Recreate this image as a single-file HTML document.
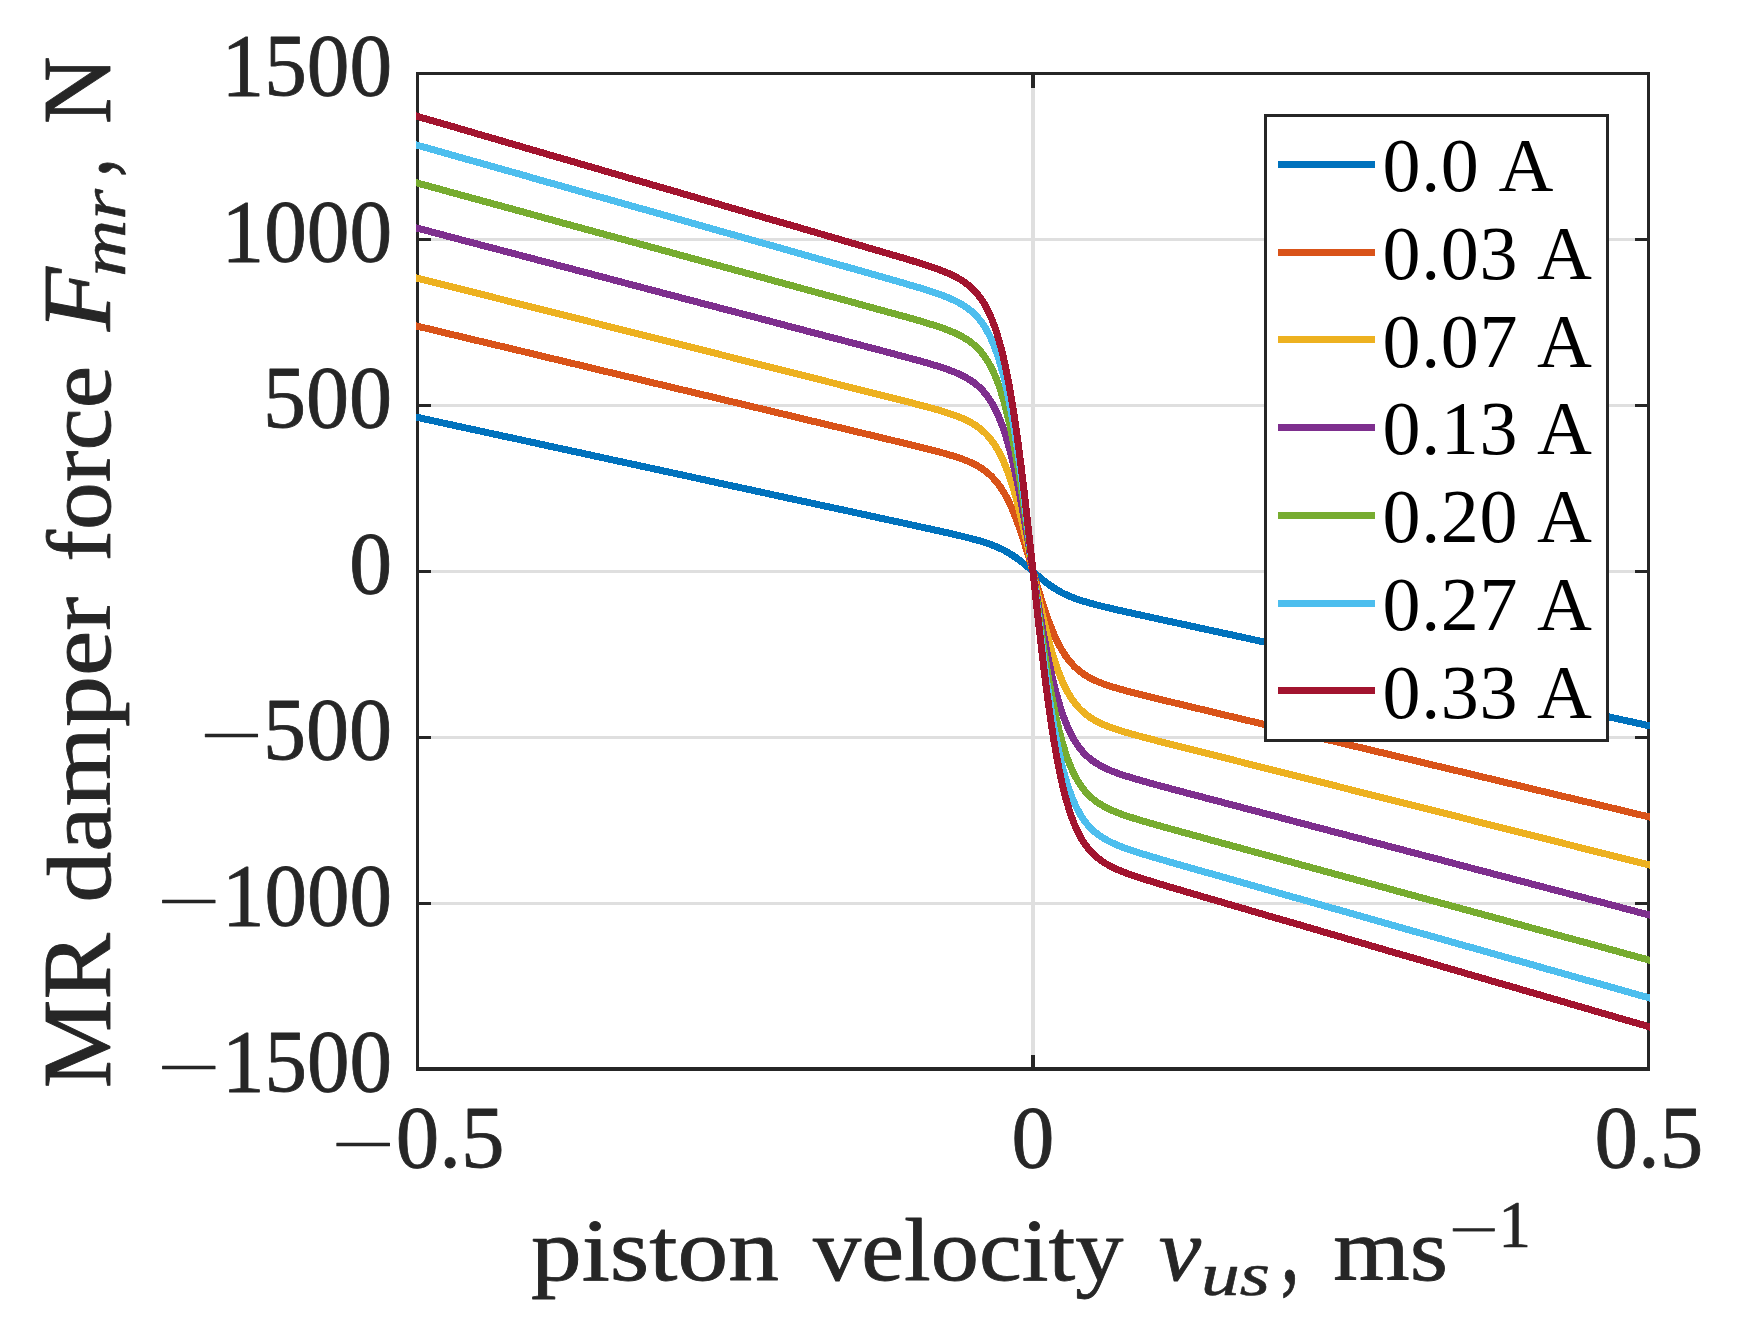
<!DOCTYPE html>
<html lang="en"><head><meta charset="utf-8"><title>MR damper force vs piston velocity</title>
<style>html,body{margin:0;padding:0;background:#fff}body{width:1739px;height:1331px;overflow:hidden}svg{display:block}text{font-family:"Liberation Serif","DejaVu Serif",serif;white-space:pre}.cm text{stroke:#262626;stroke-width:0.9;stroke-linejoin:round}</style></head><body>
<svg width="1739" height="1331" viewBox="0 0 1739 1331">
<rect width="1739" height="1331" fill="#fff"/>
<g stroke="#dfdfdf" stroke-width="3" shape-rendering="crispEdges"><line x1="417.5" y1="239.50" x2="1648.5" y2="239.50"/><line x1="417.5" y1="405.50" x2="1648.5" y2="405.50"/><line x1="417.5" y1="571.50" x2="1648.5" y2="571.50"/><line x1="417.5" y1="737.50" x2="1648.5" y2="737.50"/><line x1="417.5" y1="903.50" x2="1648.5" y2="903.50"/><line x1="1033.0" y1="73.5" x2="1033.0" y2="1069.5" stroke-width="4"/></g>
<g stroke="#262626" stroke-width="3.0" fill="none" shape-rendering="crispEdges"><path d="M416 73.5H1650M417.5 72V1071M1648.5 72V1071" stroke-width="3"/><path d="M416 1069H1650" stroke-width="4"/><line x1="417.5" y1="239.50" x2="431.0" y2="239.50"/><line x1="1648.5" y1="239.50" x2="1635.0" y2="239.50"/><line x1="417.5" y1="405.50" x2="431.0" y2="405.50"/><line x1="1648.5" y1="405.50" x2="1635.0" y2="405.50"/><line x1="417.5" y1="571.50" x2="431.0" y2="571.50"/><line x1="1648.5" y1="571.50" x2="1635.0" y2="571.50"/><line x1="417.5" y1="737.50" x2="431.0" y2="737.50"/><line x1="1648.5" y1="737.50" x2="1635.0" y2="737.50"/><line x1="417.5" y1="903.50" x2="431.0" y2="903.50"/><line x1="1648.5" y1="903.50" x2="1635.0" y2="903.50"/><line x1="1033.0" y1="73.5" x2="1033.0" y2="88.0" stroke-width="4"/><line x1="1033.0" y1="1069.0" x2="1033.0" y2="1055.0" stroke-width="4"/></g>
<clipPath id="cp"><rect x="416" y="60" width="1234" height="1020"/></clipPath>
<g fill="none" stroke-width="7.0" stroke-linejoin="round" shape-rendering="crispEdges" clip-path="url(#cp)"><path d="M413.0 416.5 L417.5 417.4 L438.0 421.9 L458.5 426.4 L479.0 430.8 L499.6 435.3 L520.1 439.7 L540.6 444.2 L561.1 448.7 L581.6 453.1 L602.1 457.6 L622.7 462.1 L643.2 466.5 L663.7 471.0 L684.2 475.4 L704.7 479.9 L725.2 484.4 L745.8 488.8 L766.3 493.3 L786.8 497.8 L807.3 502.2 L827.8 506.7 L848.4 511.1 L868.9 515.6 L889.4 520.1 L893.0 520.9 L895.0 521.3 L897.0 521.7 L899.0 522.2 L901.0 522.6 L903.0 523.0 L905.0 523.5 L907.0 523.9 L909.0 524.3 L909.9 524.5 L911.0 524.8 L913.0 525.2 L915.0 525.7 L917.0 526.1 L919.0 526.5 L921.0 527.0 L923.0 527.4 L925.0 527.8 L927.0 528.3 L929.0 528.7 L930.4 529.0 L931.0 529.2 L933.0 529.6 L935.0 530.1 L937.0 530.5 L939.0 530.9 L941.0 531.4 L943.0 531.8 L945.0 532.3 L947.0 532.7 L949.0 533.2 L950.9 533.6 L951.0 533.7 L953.0 534.1 L955.0 534.6 L957.0 535.1 L959.0 535.5 L961.0 536.0 L963.0 536.5 L965.0 537.0 L967.0 537.5 L969.0 538.0 L971.0 538.5 L971.5 538.6 L973.0 539.1 L975.0 539.6 L977.0 540.2 L979.0 540.7 L981.0 541.3 L983.0 541.9 L985.0 542.6 L987.0 543.2 L989.0 543.9 L991.0 544.6 L992.0 545.0 L993.0 545.4 L995.0 546.2 L997.0 547.0 L999.0 547.9 L1001.0 548.8 L1003.0 549.8 L1005.0 550.8 L1007.0 551.9 L1009.0 553.1 L1011.0 554.3 L1012.5 555.3 L1013.0 555.6 L1015.0 557.0 L1017.0 558.4 L1019.0 559.8 L1021.0 561.4 L1023.0 563.0 L1025.0 564.6 L1027.0 566.3 L1029.0 568.0 L1031.0 569.8 L1033.0 571.5 L1035.0 573.2 L1037.0 575.0 L1039.0 576.7 L1041.0 578.4 L1043.0 580.0 L1045.0 581.6 L1047.0 583.2 L1049.0 584.6 L1051.0 586.0 L1053.0 587.4 L1053.5 587.7 L1055.0 588.7 L1057.0 589.9 L1059.0 591.1 L1061.0 592.2 L1063.0 593.2 L1065.0 594.2 L1067.0 595.1 L1069.0 596.0 L1071.0 596.8 L1073.0 597.6 L1074.0 598.0 L1075.0 598.4 L1077.0 599.1 L1079.0 599.8 L1081.0 600.4 L1083.0 601.1 L1085.0 601.7 L1087.0 602.3 L1089.0 602.8 L1091.0 603.4 L1093.0 603.9 L1094.5 604.4 L1095.0 604.5 L1097.0 605.0 L1099.0 605.5 L1101.0 606.0 L1103.0 606.5 L1105.0 607.0 L1107.0 607.5 L1109.0 607.9 L1111.0 608.4 L1113.0 608.9 L1115.0 609.3 L1115.1 609.4 L1117.0 609.8 L1119.0 610.3 L1121.0 610.7 L1123.0 611.2 L1125.0 611.6 L1127.0 612.1 L1129.0 612.5 L1131.0 612.9 L1133.0 613.4 L1135.0 613.8 L1135.6 614.0 L1137.0 614.3 L1139.0 614.7 L1141.0 615.2 L1143.0 615.6 L1145.0 616.0 L1147.0 616.5 L1149.0 616.9 L1151.0 617.3 L1153.0 617.8 L1155.0 618.2 L1156.1 618.5 L1157.0 618.7 L1159.0 619.1 L1161.0 619.5 L1163.0 620.0 L1165.0 620.4 L1167.0 620.8 L1169.0 621.3 L1171.0 621.7 L1173.0 622.1 L1176.6 622.9 L1197.1 627.4 L1217.7 631.9 L1238.2 636.3 L1258.7 640.8 L1279.2 645.2 L1299.7 649.7 L1320.2 654.2 L1340.8 658.6 L1361.3 663.1 L1381.8 667.6 L1402.3 672.0 L1422.8 676.5 L1443.3 680.9 L1463.8 685.4 L1484.4 689.9 L1504.9 694.3 L1525.4 698.8 L1545.9 703.3 L1566.4 707.7 L1587.0 712.2 L1607.5 716.6 L1628.0 721.1 L1648.5 725.6 L1653.0 726.5" stroke="#0072BD"/><path d="M413.0 325.1 L417.5 326.2 L438.0 331.1 L458.5 336.1 L479.0 341.0 L499.6 345.9 L520.1 350.8 L540.6 355.8 L561.1 360.7 L581.6 365.6 L602.1 370.6 L622.7 375.5 L643.2 380.4 L663.7 385.4 L684.2 390.3 L704.7 395.2 L725.2 400.1 L745.8 405.1 L766.3 410.0 L786.8 414.9 L807.3 419.9 L827.8 424.8 L848.4 429.7 L868.9 434.7 L889.4 439.6 L893.0 440.5 L895.0 441.0 L897.0 441.4 L899.0 441.9 L901.0 442.4 L903.0 442.9 L905.0 443.4 L907.0 443.9 L909.0 444.4 L909.9 444.6 L911.0 444.9 L913.0 445.3 L915.0 445.8 L917.0 446.3 L919.0 446.8 L921.0 447.3 L923.0 447.8 L925.0 448.3 L927.0 448.8 L929.0 449.3 L930.4 449.7 L931.0 449.8 L933.0 450.4 L935.0 450.9 L937.0 451.4 L939.0 451.9 L941.0 452.5 L943.0 453.0 L945.0 453.6 L947.0 454.2 L949.0 454.7 L950.9 455.3 L951.0 455.3 L953.0 455.9 L955.0 456.6 L957.0 457.2 L959.0 457.9 L961.0 458.6 L963.0 459.3 L965.0 460.1 L967.0 460.9 L969.0 461.7 L971.0 462.6 L971.5 462.8 L973.0 463.5 L975.0 464.6 L977.0 465.6 L979.0 466.8 L981.0 468.0 L983.0 469.4 L985.0 470.8 L987.0 472.4 L989.0 474.1 L991.0 475.9 L992.0 476.9 L993.0 478.0 L995.0 480.2 L997.0 482.6 L999.0 485.2 L1001.0 488.0 L1003.0 491.2 L1005.0 494.5 L1007.0 498.2 L1009.0 502.2 L1011.0 506.4 L1012.5 509.8 L1013.0 511.0 L1015.0 515.9 L1017.0 521.1 L1019.0 526.6 L1021.0 532.4 L1023.0 538.5 L1025.0 544.8 L1027.0 551.3 L1029.0 557.9 L1031.0 564.7 L1033.0 571.5 L1035.0 578.3 L1037.0 585.1 L1039.0 591.7 L1041.0 598.2 L1043.0 604.5 L1045.0 610.6 L1047.0 616.4 L1049.0 621.9 L1051.0 627.1 L1053.0 632.0 L1053.5 633.2 L1055.0 636.6 L1057.0 640.8 L1059.0 644.8 L1061.0 648.5 L1063.0 651.8 L1065.0 655.0 L1067.0 657.8 L1069.0 660.4 L1071.0 662.8 L1073.0 665.0 L1074.0 666.1 L1075.0 667.1 L1077.0 668.9 L1079.0 670.6 L1081.0 672.2 L1083.0 673.6 L1085.0 675.0 L1087.0 676.2 L1089.0 677.4 L1091.0 678.4 L1093.0 679.5 L1094.5 680.2 L1095.0 680.4 L1097.0 681.3 L1099.0 682.1 L1101.0 682.9 L1103.0 683.7 L1105.0 684.4 L1107.0 685.1 L1109.0 685.8 L1111.0 686.4 L1113.0 687.1 L1115.0 687.7 L1115.1 687.7 L1117.0 688.3 L1119.0 688.8 L1121.0 689.4 L1123.0 690.0 L1125.0 690.5 L1127.0 691.1 L1129.0 691.6 L1131.0 692.1 L1133.0 692.6 L1135.0 693.2 L1135.6 693.3 L1137.0 693.7 L1139.0 694.2 L1141.0 694.7 L1143.0 695.2 L1145.0 695.7 L1147.0 696.2 L1149.0 696.7 L1151.0 697.2 L1153.0 697.7 L1155.0 698.1 L1156.1 698.4 L1157.0 698.6 L1159.0 699.1 L1161.0 699.6 L1163.0 700.1 L1165.0 700.6 L1167.0 701.1 L1169.0 701.6 L1171.0 702.0 L1173.0 702.5 L1176.6 703.4 L1197.1 708.3 L1217.7 713.3 L1238.2 718.2 L1258.7 723.1 L1279.2 728.1 L1299.7 733.0 L1320.2 737.9 L1340.8 742.9 L1361.3 747.8 L1381.8 752.7 L1402.3 757.6 L1422.8 762.6 L1443.3 767.5 L1463.8 772.4 L1484.4 777.4 L1504.9 782.3 L1525.4 787.2 L1545.9 792.2 L1566.4 797.1 L1587.0 802.0 L1607.5 806.9 L1628.0 811.9 L1648.5 816.8 L1653.0 817.9" stroke="#D95319"/><path d="M413.0 277.1 L417.5 278.2 L438.0 283.4 L458.5 288.6 L479.0 293.7 L499.6 298.9 L520.1 304.1 L540.6 309.3 L561.1 314.4 L581.6 319.6 L602.1 324.8 L622.7 330.0 L643.2 335.1 L663.7 340.3 L684.2 345.5 L704.7 350.6 L725.2 355.8 L745.8 361.0 L766.3 366.2 L786.8 371.3 L807.3 376.5 L827.8 381.7 L848.4 386.9 L868.9 392.0 L889.4 397.2 L893.0 398.1 L895.0 398.6 L897.0 399.2 L899.0 399.7 L901.0 400.2 L903.0 400.7 L905.0 401.2 L907.0 401.7 L909.0 402.2 L909.9 402.5 L911.0 402.7 L913.0 403.3 L915.0 403.8 L917.0 404.3 L919.0 404.8 L921.0 405.4 L923.0 405.9 L925.0 406.4 L927.0 407.0 L929.0 407.5 L930.4 407.9 L931.0 408.0 L933.0 408.6 L935.0 409.2 L937.0 409.7 L939.0 410.3 L941.0 410.9 L943.0 411.5 L945.0 412.1 L947.0 412.7 L949.0 413.4 L950.9 414.0 L951.0 414.1 L953.0 414.7 L955.0 415.5 L957.0 416.2 L959.0 417.0 L961.0 417.8 L963.0 418.6 L965.0 419.5 L967.0 420.5 L969.0 421.5 L971.0 422.6 L971.5 422.8 L973.0 423.8 L975.0 425.0 L977.0 426.3 L979.0 427.8 L981.0 429.4 L983.0 431.1 L985.0 433.0 L987.0 435.0 L989.0 437.3 L991.0 439.7 L992.0 441.0 L993.0 442.4 L995.0 445.4 L997.0 448.6 L999.0 452.1 L1001.0 456.0 L1003.0 460.2 L1005.0 464.9 L1007.0 469.9 L1009.0 475.3 L1011.0 481.2 L1012.5 485.8 L1013.0 487.5 L1015.0 494.3 L1017.0 501.5 L1019.0 509.1 L1021.0 517.2 L1023.0 525.6 L1025.0 534.4 L1027.0 543.4 L1029.0 552.6 L1031.0 562.0 L1033.0 571.5 L1035.0 581.0 L1037.0 590.4 L1039.0 599.6 L1041.0 608.6 L1043.0 617.4 L1045.0 625.8 L1047.0 633.9 L1049.0 641.5 L1051.0 648.7 L1053.0 655.5 L1053.5 657.2 L1055.0 661.8 L1057.0 667.7 L1059.0 673.1 L1061.0 678.1 L1063.0 682.8 L1065.0 687.0 L1067.0 690.9 L1069.0 694.4 L1071.0 697.6 L1073.0 700.6 L1074.0 702.0 L1075.0 703.3 L1077.0 705.7 L1079.0 708.0 L1081.0 710.0 L1083.0 711.9 L1085.0 713.6 L1087.0 715.2 L1089.0 716.7 L1091.0 718.0 L1093.0 719.2 L1094.5 720.2 L1095.0 720.4 L1097.0 721.5 L1099.0 722.5 L1101.0 723.5 L1103.0 724.4 L1105.0 725.2 L1107.0 726.0 L1109.0 726.8 L1111.0 727.5 L1113.0 728.3 L1115.0 728.9 L1115.1 729.0 L1117.0 729.6 L1119.0 730.3 L1121.0 730.9 L1123.0 731.5 L1125.0 732.1 L1127.0 732.7 L1129.0 733.3 L1131.0 733.8 L1133.0 734.4 L1135.0 735.0 L1135.6 735.1 L1137.0 735.5 L1139.0 736.0 L1141.0 736.6 L1143.0 737.1 L1145.0 737.6 L1147.0 738.2 L1149.0 738.7 L1151.0 739.2 L1153.0 739.7 L1155.0 740.3 L1156.1 740.5 L1157.0 740.8 L1159.0 741.3 L1161.0 741.8 L1163.0 742.3 L1165.0 742.8 L1167.0 743.3 L1169.0 743.8 L1171.0 744.4 L1173.0 744.9 L1176.6 745.8 L1197.1 751.0 L1217.7 756.1 L1238.2 761.3 L1258.7 766.5 L1279.2 771.7 L1299.7 776.8 L1320.2 782.0 L1340.8 787.2 L1361.3 792.4 L1381.8 797.5 L1402.3 802.7 L1422.8 807.9 L1443.3 813.0 L1463.8 818.2 L1484.4 823.4 L1504.9 828.6 L1525.4 833.7 L1545.9 838.9 L1566.4 844.1 L1587.0 849.3 L1607.5 854.4 L1628.0 859.6 L1648.5 864.8 L1653.0 865.9" stroke="#EDB120"/><path d="M413.0 227.0 L417.5 228.2 L438.0 233.6 L458.5 239.1 L479.0 244.5 L499.6 249.9 L520.1 255.3 L540.6 260.7 L561.1 266.1 L581.6 271.5 L602.1 276.9 L622.7 282.4 L643.2 287.8 L663.7 293.2 L684.2 298.6 L704.7 304.0 L725.2 309.4 L745.8 314.8 L766.3 320.2 L786.8 325.7 L807.3 331.1 L827.8 336.5 L848.4 341.9 L868.9 347.3 L889.4 352.7 L893.0 353.7 L895.0 354.2 L897.0 354.8 L899.0 355.3 L901.0 355.8 L903.0 356.4 L905.0 356.9 L907.0 357.5 L909.0 358.0 L909.9 358.2 L911.0 358.5 L913.0 359.1 L915.0 359.6 L917.0 360.2 L919.0 360.7 L921.0 361.3 L923.0 361.9 L925.0 362.4 L927.0 363.0 L929.0 363.6 L930.4 364.0 L931.0 364.2 L933.0 364.8 L935.0 365.4 L937.0 366.0 L939.0 366.6 L941.0 367.2 L943.0 367.9 L945.0 368.6 L947.0 369.3 L949.0 370.0 L950.9 370.7 L951.0 370.7 L953.0 371.5 L955.0 372.3 L957.0 373.1 L959.0 374.0 L961.0 374.9 L963.0 375.9 L965.0 377.0 L967.0 378.1 L969.0 379.3 L971.0 380.6 L971.5 380.9 L973.0 382.0 L975.0 383.5 L977.0 385.1 L979.0 386.9 L981.0 388.8 L983.0 390.9 L985.0 393.2 L987.0 395.8 L989.0 398.6 L991.0 401.7 L992.0 403.3 L993.0 405.1 L995.0 408.8 L997.0 412.9 L999.0 417.4 L1001.0 422.3 L1003.0 427.7 L1005.0 433.7 L1007.0 440.1 L1009.0 447.1 L1011.0 454.7 L1012.5 460.6 L1013.0 462.8 L1015.0 471.5 L1017.0 480.9 L1019.0 490.7 L1021.0 501.2 L1023.0 512.1 L1025.0 523.4 L1027.0 535.1 L1029.0 547.1 L1031.0 559.2 L1033.0 571.5 L1035.0 583.8 L1037.0 595.9 L1039.0 607.9 L1041.0 619.6 L1043.0 630.9 L1045.0 641.8 L1047.0 652.3 L1049.0 662.1 L1051.0 671.5 L1053.0 680.2 L1053.5 682.4 L1055.0 688.3 L1057.0 695.9 L1059.0 702.9 L1061.0 709.3 L1063.0 715.3 L1065.0 720.7 L1067.0 725.6 L1069.0 730.1 L1071.0 734.2 L1073.0 737.9 L1074.0 739.7 L1075.0 741.3 L1077.0 744.4 L1079.0 747.2 L1081.0 749.8 L1083.0 752.1 L1085.0 754.2 L1087.0 756.1 L1089.0 757.9 L1091.0 759.5 L1093.0 761.0 L1094.5 762.1 L1095.0 762.4 L1097.0 763.7 L1099.0 764.9 L1101.0 766.0 L1103.0 767.1 L1105.0 768.1 L1107.0 769.0 L1109.0 769.9 L1111.0 770.7 L1113.0 771.5 L1115.0 772.3 L1115.1 772.3 L1117.0 773.0 L1119.0 773.7 L1121.0 774.4 L1123.0 775.1 L1125.0 775.8 L1127.0 776.4 L1129.0 777.0 L1131.0 777.6 L1133.0 778.2 L1135.0 778.8 L1135.6 779.0 L1137.0 779.4 L1139.0 780.0 L1141.0 780.6 L1143.0 781.1 L1145.0 781.7 L1147.0 782.3 L1149.0 782.8 L1151.0 783.4 L1153.0 783.9 L1155.0 784.5 L1156.1 784.8 L1157.0 785.0 L1159.0 785.5 L1161.0 786.1 L1163.0 786.6 L1165.0 787.2 L1167.0 787.7 L1169.0 788.2 L1171.0 788.8 L1173.0 789.3 L1176.6 790.3 L1197.1 795.7 L1217.7 801.1 L1238.2 806.5 L1258.7 811.9 L1279.2 817.3 L1299.7 822.8 L1320.2 828.2 L1340.8 833.6 L1361.3 839.0 L1381.8 844.4 L1402.3 849.8 L1422.8 855.2 L1443.3 860.6 L1463.8 866.1 L1484.4 871.5 L1504.9 876.9 L1525.4 882.3 L1545.9 887.7 L1566.4 893.1 L1587.0 898.5 L1607.5 903.9 L1628.0 909.4 L1648.5 914.8 L1653.0 916.0" stroke="#7E2F8E"/><path d="M413.0 181.9 L417.5 183.1 L438.0 188.7 L458.5 194.4 L479.0 200.0 L499.6 205.6 L520.1 211.2 L540.6 216.8 L561.1 222.5 L581.6 228.1 L602.1 233.7 L622.7 239.3 L643.2 244.9 L663.7 250.5 L684.2 256.2 L704.7 261.8 L725.2 267.4 L745.8 273.0 L766.3 278.6 L786.8 284.3 L807.3 289.9 L827.8 295.5 L848.4 301.1 L868.9 306.8 L889.4 312.4 L893.0 313.4 L895.0 314.0 L897.0 314.5 L899.0 315.1 L901.0 315.6 L903.0 316.2 L905.0 316.7 L907.0 317.3 L909.0 317.9 L909.9 318.1 L911.0 318.4 L913.0 319.0 L915.0 319.6 L917.0 320.2 L919.0 320.7 L921.0 321.3 L923.0 321.9 L925.0 322.5 L927.0 323.1 L929.0 323.7 L930.4 324.2 L931.0 324.3 L933.0 325.0 L935.0 325.6 L937.0 326.3 L939.0 326.9 L941.0 327.6 L943.0 328.3 L945.0 329.0 L947.0 329.8 L949.0 330.6 L950.9 331.3 L951.0 331.4 L953.0 332.2 L955.0 333.1 L957.0 334.0 L959.0 335.0 L961.0 336.0 L963.0 337.1 L965.0 338.3 L967.0 339.6 L969.0 340.9 L971.0 342.4 L971.5 342.7 L973.0 344.0 L975.0 345.7 L977.0 347.6 L979.0 349.7 L981.0 351.9 L983.0 354.4 L985.0 357.1 L987.0 360.1 L989.0 363.5 L991.0 367.1 L992.0 369.0 L993.0 371.1 L995.0 375.6 L997.0 380.5 L999.0 385.8 L1001.0 391.8 L1003.0 398.2 L1005.0 405.3 L1007.0 413.1 L1009.0 421.5 L1011.0 430.6 L1012.5 437.8 L1013.0 440.4 L1015.0 450.9 L1017.0 462.1 L1019.0 474.0 L1021.0 486.6 L1023.0 499.7 L1025.0 513.4 L1027.0 527.5 L1029.0 542.0 L1031.0 556.7 L1033.0 571.5 L1035.0 586.3 L1037.0 601.0 L1039.0 615.5 L1041.0 629.6 L1043.0 643.3 L1045.0 656.4 L1047.0 669.0 L1049.0 680.9 L1051.0 692.1 L1053.0 702.6 L1053.5 705.2 L1055.0 712.4 L1057.0 721.5 L1059.0 729.9 L1061.0 737.7 L1063.0 744.8 L1065.0 751.2 L1067.0 757.2 L1069.0 762.5 L1071.0 767.4 L1073.0 771.9 L1074.0 774.0 L1075.0 775.9 L1077.0 779.5 L1079.0 782.9 L1081.0 785.9 L1083.0 788.6 L1085.0 791.1 L1087.0 793.3 L1089.0 795.4 L1091.0 797.3 L1093.0 799.0 L1094.5 800.3 L1095.0 800.6 L1097.0 802.1 L1099.0 803.4 L1101.0 804.7 L1103.0 805.9 L1105.0 807.0 L1107.0 808.0 L1109.0 809.0 L1111.0 809.9 L1113.0 810.8 L1115.0 811.6 L1115.1 811.7 L1117.0 812.4 L1119.0 813.2 L1121.0 814.0 L1123.0 814.7 L1125.0 815.4 L1127.0 816.1 L1129.0 816.7 L1131.0 817.4 L1133.0 818.0 L1135.0 818.7 L1135.6 818.8 L1137.0 819.3 L1139.0 819.9 L1141.0 820.5 L1143.0 821.1 L1145.0 821.7 L1147.0 822.3 L1149.0 822.8 L1151.0 823.4 L1153.0 824.0 L1155.0 824.6 L1156.1 824.9 L1157.0 825.1 L1159.0 825.7 L1161.0 826.3 L1163.0 826.8 L1165.0 827.4 L1167.0 827.9 L1169.0 828.5 L1171.0 829.0 L1173.0 829.6 L1176.6 830.6 L1197.1 836.2 L1217.7 841.9 L1238.2 847.5 L1258.7 853.1 L1279.2 858.7 L1299.7 864.4 L1320.2 870.0 L1340.8 875.6 L1361.3 881.2 L1381.8 886.8 L1402.3 892.5 L1422.8 898.1 L1443.3 903.7 L1463.8 909.3 L1484.4 914.9 L1504.9 920.5 L1525.4 926.2 L1545.9 931.8 L1566.4 937.4 L1587.0 943.0 L1607.5 948.6 L1628.0 954.3 L1648.5 959.9 L1653.0 961.1" stroke="#77AC30"/><path d="M413.0 144.0 L417.5 145.3 L438.0 151.1 L458.5 156.9 L479.0 162.7 L499.6 168.5 L520.1 174.3 L540.6 180.2 L561.1 186.0 L581.6 191.8 L602.1 197.6 L622.7 203.4 L643.2 209.2 L663.7 215.0 L684.2 220.9 L704.7 226.7 L725.2 232.5 L745.8 238.3 L766.3 244.1 L786.8 249.9 L807.3 255.7 L827.8 261.6 L848.4 267.4 L868.9 273.2 L889.4 279.0 L893.0 280.1 L895.0 280.7 L897.0 281.2 L899.0 281.8 L901.0 282.4 L903.0 283.0 L905.0 283.5 L907.0 284.1 L909.0 284.7 L909.9 285.0 L911.0 285.3 L913.0 285.9 L915.0 286.5 L917.0 287.1 L919.0 287.7 L921.0 288.3 L923.0 288.9 L925.0 289.5 L927.0 290.2 L929.0 290.8 L930.4 291.3 L931.0 291.5 L933.0 292.1 L935.0 292.8 L937.0 293.5 L939.0 294.2 L941.0 294.9 L943.0 295.6 L945.0 296.4 L947.0 297.2 L949.0 298.0 L950.9 298.9 L951.0 298.9 L953.0 299.8 L955.0 300.7 L957.0 301.7 L959.0 302.8 L961.0 303.9 L963.0 305.1 L965.0 306.4 L967.0 307.8 L969.0 309.3 L971.0 310.9 L971.5 311.3 L973.0 312.7 L975.0 314.6 L977.0 316.7 L979.0 319.0 L981.0 321.5 L983.0 324.3 L985.0 327.4 L987.0 330.8 L989.0 334.5 L991.0 338.6 L992.0 340.8 L993.0 343.2 L995.0 348.2 L997.0 353.7 L999.0 359.8 L1001.0 366.6 L1003.0 373.9 L1005.0 382.0 L1007.0 390.8 L1009.0 400.3 L1011.0 410.7 L1012.5 418.9 L1013.0 421.9 L1015.0 433.9 L1017.0 446.7 L1019.0 460.3 L1021.0 474.6 L1023.0 489.6 L1025.0 505.2 L1027.0 521.3 L1029.0 537.8 L1031.0 554.6 L1033.0 571.5 L1035.0 588.4 L1037.0 605.2 L1039.0 621.7 L1041.0 637.8 L1043.0 653.4 L1045.0 668.4 L1047.0 682.7 L1049.0 696.3 L1051.0 709.1 L1053.0 721.1 L1053.5 724.1 L1055.0 732.3 L1057.0 742.7 L1059.0 752.2 L1061.0 761.0 L1063.0 769.1 L1065.0 776.4 L1067.0 783.2 L1069.0 789.3 L1071.0 794.8 L1073.0 799.8 L1074.0 802.2 L1075.0 804.4 L1077.0 808.5 L1079.0 812.2 L1081.0 815.6 L1083.0 818.7 L1085.0 821.5 L1087.0 824.0 L1089.0 826.3 L1091.0 828.4 L1093.0 830.3 L1094.5 831.7 L1095.0 832.1 L1097.0 833.7 L1099.0 835.2 L1101.0 836.6 L1103.0 837.9 L1105.0 839.1 L1107.0 840.2 L1109.0 841.3 L1111.0 842.3 L1113.0 843.2 L1115.0 844.1 L1115.1 844.1 L1117.0 845.0 L1119.0 845.8 L1121.0 846.6 L1123.0 847.4 L1125.0 848.1 L1127.0 848.8 L1129.0 849.5 L1131.0 850.2 L1133.0 850.9 L1135.0 851.5 L1135.6 851.7 L1137.0 852.2 L1139.0 852.8 L1141.0 853.5 L1143.0 854.1 L1145.0 854.7 L1147.0 855.3 L1149.0 855.9 L1151.0 856.5 L1153.0 857.1 L1155.0 857.7 L1156.1 858.0 L1157.0 858.3 L1159.0 858.9 L1161.0 859.5 L1163.0 860.0 L1165.0 860.6 L1167.0 861.2 L1169.0 861.8 L1171.0 862.3 L1173.0 862.9 L1176.6 864.0 L1197.1 869.8 L1217.7 875.6 L1238.2 881.4 L1258.7 887.3 L1279.2 893.1 L1299.7 898.9 L1320.2 904.7 L1340.8 910.5 L1361.3 916.3 L1381.8 922.1 L1402.3 928.0 L1422.8 933.8 L1443.3 939.6 L1463.8 945.4 L1484.4 951.2 L1504.9 957.0 L1525.4 962.8 L1545.9 968.7 L1566.4 974.5 L1587.0 980.3 L1607.5 986.1 L1628.0 991.9 L1648.5 997.7 L1653.0 999.0" stroke="#4DBEEE"/><path d="M413.0 115.1 L417.5 116.4 L438.0 122.4 L458.5 128.3 L479.0 134.3 L499.6 140.3 L520.1 146.3 L540.6 152.3 L561.1 158.2 L581.6 164.2 L602.1 170.2 L622.7 176.2 L643.2 182.2 L663.7 188.1 L684.2 194.1 L704.7 200.1 L725.2 206.1 L745.8 212.1 L766.3 218.1 L786.8 224.0 L807.3 230.0 L827.8 236.0 L848.4 242.0 L868.9 248.0 L889.4 254.0 L893.0 255.1 L895.0 255.6 L897.0 256.2 L899.0 256.8 L901.0 257.4 L903.0 258.0 L905.0 258.6 L907.0 259.2 L909.0 259.8 L909.9 260.1 L911.0 260.4 L913.0 261.0 L915.0 261.7 L917.0 262.3 L919.0 262.9 L921.0 263.5 L923.0 264.2 L925.0 264.8 L927.0 265.5 L929.0 266.1 L930.4 266.6 L931.0 266.8 L933.0 267.5 L935.0 268.2 L937.0 268.9 L939.0 269.6 L941.0 270.4 L943.0 271.1 L945.0 272.0 L947.0 272.8 L949.0 273.6 L950.9 274.5 L951.0 274.6 L953.0 275.5 L955.0 276.5 L957.0 277.6 L959.0 278.7 L961.0 279.9 L963.0 281.2 L965.0 282.5 L967.0 284.0 L969.0 285.6 L971.0 287.4 L971.5 287.8 L973.0 289.2 L975.0 291.3 L977.0 293.6 L979.0 296.1 L981.0 298.8 L983.0 301.8 L985.0 305.1 L987.0 308.8 L989.0 312.8 L991.0 317.3 L992.0 319.7 L993.0 322.3 L995.0 327.7 L997.0 333.8 L999.0 340.4 L1001.0 347.7 L1003.0 355.7 L1005.0 364.5 L1007.0 374.1 L1009.0 384.6 L1011.0 395.9 L1012.5 404.8 L1013.0 408.1 L1015.0 421.2 L1017.0 435.1 L1019.0 450.0 L1021.0 465.6 L1023.0 482.0 L1025.0 499.1 L1027.0 516.7 L1029.0 534.7 L1031.0 553.0 L1033.0 571.5 L1035.0 590.0 L1037.0 608.3 L1039.0 626.3 L1041.0 643.9 L1043.0 661.0 L1045.0 677.4 L1047.0 693.0 L1049.0 707.9 L1051.0 721.8 L1053.0 734.9 L1053.5 738.2 L1055.0 747.1 L1057.0 758.4 L1059.0 768.9 L1061.0 778.5 L1063.0 787.3 L1065.0 795.3 L1067.0 802.6 L1069.0 809.2 L1071.0 815.3 L1073.0 820.7 L1074.0 823.3 L1075.0 825.7 L1077.0 830.2 L1079.0 834.2 L1081.0 837.9 L1083.0 841.2 L1085.0 844.2 L1087.0 846.9 L1089.0 849.4 L1091.0 851.7 L1093.0 853.8 L1094.5 855.2 L1095.0 855.6 L1097.0 857.4 L1099.0 859.0 L1101.0 860.5 L1103.0 861.8 L1105.0 863.1 L1107.0 864.3 L1109.0 865.4 L1111.0 866.5 L1113.0 867.5 L1115.0 868.4 L1115.1 868.5 L1117.0 869.4 L1119.0 870.2 L1121.0 871.0 L1123.0 871.9 L1125.0 872.6 L1127.0 873.4 L1129.0 874.1 L1131.0 874.8 L1133.0 875.5 L1135.0 876.2 L1135.6 876.4 L1137.0 876.9 L1139.0 877.5 L1141.0 878.2 L1143.0 878.8 L1145.0 879.5 L1147.0 880.1 L1149.0 880.7 L1151.0 881.3 L1153.0 882.0 L1155.0 882.6 L1156.1 882.9 L1157.0 883.2 L1159.0 883.8 L1161.0 884.4 L1163.0 885.0 L1165.0 885.6 L1167.0 886.2 L1169.0 886.8 L1171.0 887.4 L1173.0 887.9 L1176.6 889.0 L1197.1 895.0 L1217.7 901.0 L1238.2 907.0 L1258.7 913.0 L1279.2 919.0 L1299.7 924.9 L1320.2 930.9 L1340.8 936.9 L1361.3 942.9 L1381.8 948.9 L1402.3 954.9 L1422.8 960.8 L1443.3 966.8 L1463.8 972.8 L1484.4 978.8 L1504.9 984.8 L1525.4 990.7 L1545.9 996.7 L1566.4 1002.7 L1587.0 1008.7 L1607.5 1014.7 L1628.0 1020.6 L1648.5 1026.6 L1653.0 1027.9" stroke="#A2142F"/></g>
<rect x="1265.5" y="115.5" width="342.0" height="624.5" fill="#fff" stroke="#262626" stroke-width="3.0" shape-rendering="crispEdges"/>
<g stroke-width="7.0" shape-rendering="crispEdges"><line x1="1278" y1="164.4" x2="1375" y2="164.4" stroke="#0072BD"/><line x1="1278" y1="252.1" x2="1375" y2="252.1" stroke="#D95319"/><line x1="1278" y1="339.9" x2="1375" y2="339.9" stroke="#EDB120"/><line x1="1278" y1="427.6" x2="1375" y2="427.6" stroke="#7E2F8E"/><line x1="1278" y1="515.3" x2="1375" y2="515.3" stroke="#77AC30"/><line x1="1278" y1="603.1" x2="1375" y2="603.1" stroke="#4DBEEE"/><line x1="1278" y1="690.8" x2="1375" y2="690.8" stroke="#A2142F"/></g>
<g font-size="76.0" fill="#000" letter-spacing="0.6" word-spacing="3.6"><text x="1382.6" y="191.2">0.0 A</text><text x="1382.6" y="278.9">0.03 A</text><text x="1382.6" y="366.7">0.07 A</text><text x="1382.6" y="454.4">0.13 A</text><text x="1382.6" y="542.1">0.20 A</text><text x="1382.6" y="629.9">0.27 A</text><text x="1382.6" y="717.6">0.33 A</text></g>
<g class="cm"><text transform="matrix(0.8530 0 0 0.8904 221.52 95.41)" font-size="100" fill="#262626">1500</text><text transform="matrix(0.8530 0 0 0.8904 221.52 261.41)" font-size="100" fill="#262626">1000</text><text transform="matrix(0.8614 0 0 0.8904 262.93 427.41)" font-size="100" fill="#262626">500</text><text transform="matrix(0.8571 0 0 0.8904 349.27 593.41)" font-size="100" fill="#262626">0</text><text transform="matrix(1.1224 0 0 0.6102 199.69 756.49)" font-size="100" fill="#262626">−</text><text transform="matrix(0.8614 0 0 0.8904 262.93 759.41)" font-size="100" fill="#262626">500</text><text transform="matrix(1.1266 0 0 0.6102 156.97 922.49)" font-size="100" fill="#262626">−</text><text transform="matrix(0.8508 0 0 0.8904 221.94 925.41)" font-size="100" fill="#262626">1000</text><text transform="matrix(1.1266 0 0 0.6102 156.97 1088.49)" font-size="100" fill="#262626">−</text><text transform="matrix(0.8508 0 0 0.8904 221.94 1091.41)" font-size="100" fill="#262626">1500</text></g>
<g class="cm"><text transform="matrix(1.1308 0 0 0.6102 331.25 1164.99)" font-size="100" fill="#262626">−</text><text transform="matrix(0.8701 0 0 0.8810 395.73 1166.88)" font-size="100" fill="#262626">0.5</text><text transform="matrix(0.8571 0 0 0.8845 1011.57 1167.12)" font-size="100" fill="#262626">0</text><text transform="matrix(0.8701 0 0 0.8810 1594.43 1166.88)" font-size="100" fill="#262626">0.5</text></g>
<g class="cm"><text transform="matrix(1.0140 0 0 0.8913 530.94 1280.30)" font-size="100" fill="#262626">piston</text><text transform="matrix(0.9641 0 0 0.8913 812.93 1280.30)" font-size="100" fill="#262626">velocity</text><text transform="matrix(0.9522 0 0 0.8914 1158.70 1280.31)" font-size="100" font-style="italic" fill="#262626">v</text><text transform="matrix(0.7778 0 0 0.6185 1200.96 1294.55)" font-size="100" font-style="italic" fill="#262626">us</text><text transform="matrix(0.7484 0 0 1.0882 1280.73 1281.34)" font-size="100" fill="#262626">,</text><text transform="matrix(0.9830 0 0 0.8913 1333.18 1280.30)" font-size="100" fill="#262626">ms</text><text transform="matrix(0.8861 0 0 0.5424 1448.77 1247.63)" font-size="100" fill="#262626">−</text><text transform="matrix(0.6556 0 0 0.6816 1498.16 1246.99)" font-size="100" fill="#262626">1</text></g>
<g class="cm" transform="rotate(-90)"><text transform="matrix(0.9971 0 0 0.9639 -1088.19 109.77)" font-size="100" fill="#262626">MR</text><text transform="matrix(1.0209 0 0 0.9041 -902.81 109.79)" font-size="100" fill="#262626">damper</text><text transform="matrix(0.9545 0 0 0.9041 -561.83 109.79)" font-size="100" fill="#262626">force</text><text transform="matrix(1.0426 0 0 0.9639 -331.11 109.77)" font-size="100" font-style="italic" fill="#262626">F</text><text transform="matrix(0.7897 0 0 0.6388 -276.81 124.81)" font-size="100" font-style="italic" fill="#262626">mr</text><text transform="matrix(0.7547 0 0 1.0394 -177.09 110.42)" font-size="100" fill="#262626">,</text><text transform="matrix(0.9362 0 0 0.9639 -123.95 109.77)" font-size="100" fill="#262626">N</text></g>
</svg></body></html>
